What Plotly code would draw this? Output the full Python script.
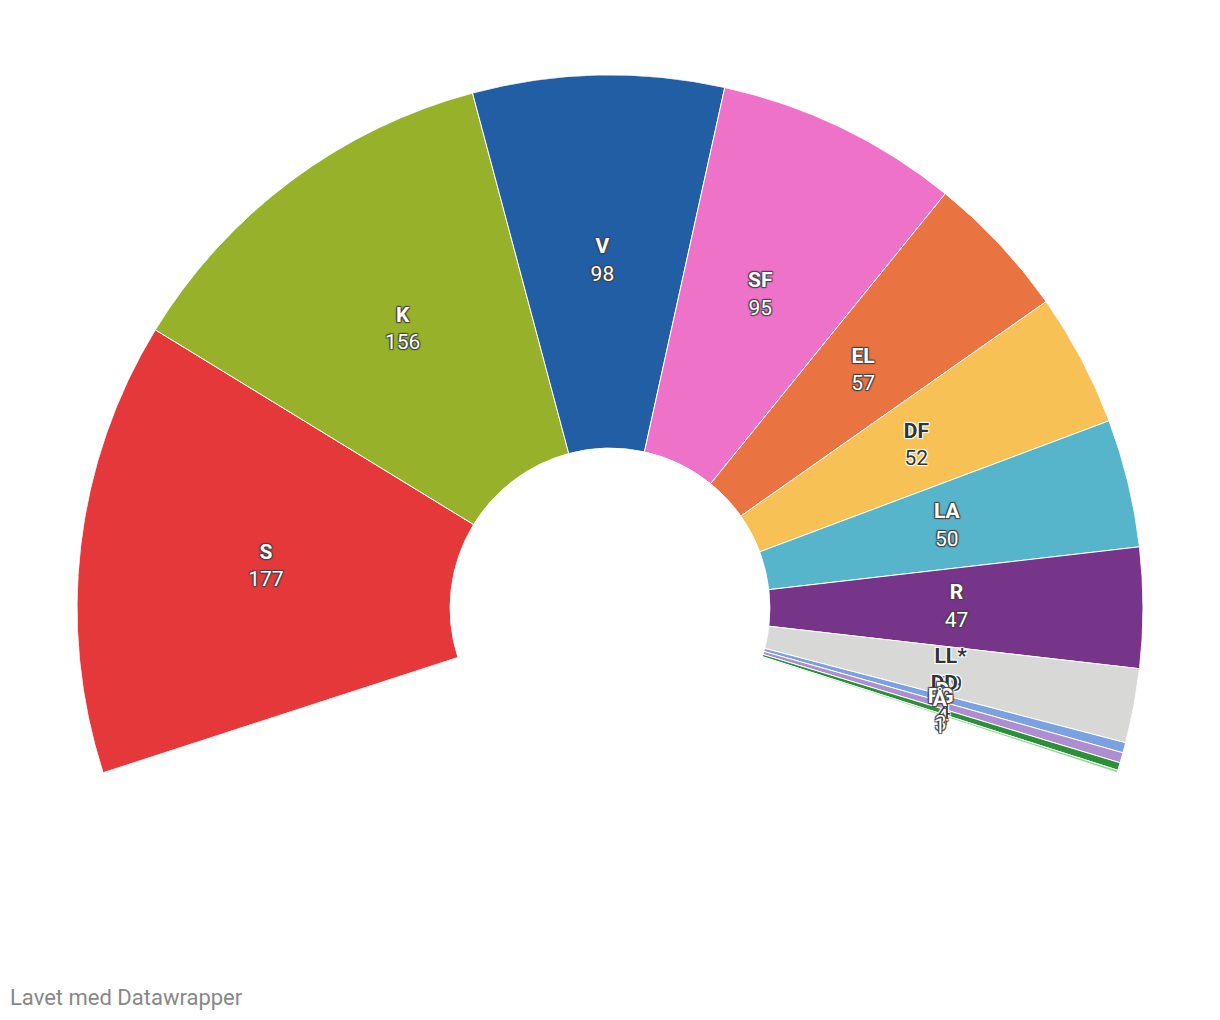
import plotly.graph_objects as go

# Mandater pr. parti
partier = ["S", "K", "V", "SF", "EL", "DF", "LA", "R", "LL*", "DD", "D", "FG", "Å"]
mandater = [177, 156, 98, 95, 57, 52, 50, 47, 29, 4, 4, 3, 1]
farver = ["#e4383a", "#97b22a", "#215ea3", "#ee73c8", "#ea7441", "#f8c155",
          "#57b5cb", "#773589", "#d8d8d6", "#7aa2e0", "#ae8ed0", "#2d8f3a", "#8fd88f"]
tekstfarver = ["#ffffff", "#ffffff", "#ffffff", "#ffffff", "#ffffff", "#333333",
               "#ffffff", "#ffffff", "#333333", "#333333", "#ffffff", "#ffffff", "#ffffff"]

# Buen går fra -18 til 198 grader
SPAN = 216.0
total = sum(mandater)
grader = [m * SPAN / total for m in mandater]
midter = []
acc = 0
for g in grader:
    midter.append(acc + g / 2)
    acc += g

fig = go.Figure()

fig.add_trace(go.Barpolar(
    r=[1] * len(mandater),
    theta=midter,
    width=grader,
    base=0,
    marker=dict(color=farver, line=dict(color="white", width=1)),
    hoverinfo="skip",
))

fig.add_trace(go.Scatterpolar(
    r=[0.5] * len(mandater),
    theta=midter,
    mode="text",
    text=[f"<b>{p}</b><br>{m}" for p, m in zip(partier, mandater)],
    textfont=dict(family="Roboto", size=21, color=tekstfarver, shadow="auto"),
    hoverinfo="skip",
))

# siden har 8px kant i browseren
W, H = 1220, 1020
fig.update_layout(
    width=W,
    height=H,
    margin=dict(l=0, r=0, t=0, b=0),
    paper_bgcolor="white",
    plot_bgcolor="white",
    showlegend=False,
    font=dict(family="Roboto"),
    polar=dict(
        domain=dict(x=[69 / W, 1135 / W], y=[1 - 764.7 / H, 1 - 67 / H]),
        sector=[-18, 198],
        hole=0.30,
        bgcolor="white",
        radialaxis=dict(range=[0, 1], visible=False),
        angularaxis=dict(rotation=198, direction="clockwise", visible=False),
    ),
)

fig.add_annotation(
    x=0, y=1 - 989 / H, xref="paper", yref="paper",
    xanchor="left", yanchor="middle",
    text="Lavet med Datawrapper", showarrow=False,
    font=dict(family="Roboto", size=22, color="#888888"),
)

fig.write_html("out.html")
